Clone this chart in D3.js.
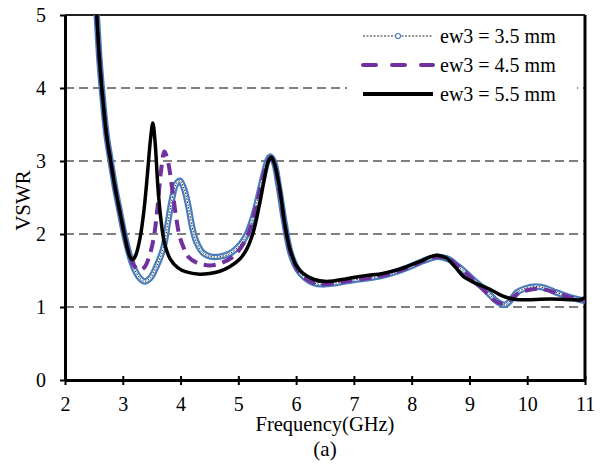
<!DOCTYPE html>
<html><head><meta charset="utf-8">
<script src="https://cdn.jsdelivr.net/npm/d3@7"></script>
<style>body{margin:0;background:#fff}svg text{font-family:"Liberation Serif","Times New Roman",serif !important;fill:#000}</style>
</head><body><svg id="c" width="603" height="467"></svg>
<script>
const xTicks=[2,3,4,5,6,7,8,9,10,11];
const yTicks=[0,1,2,3,4,5];
const seriesNames=["ew3 = 3.5 mm","ew3 = 4.5 mm","ew3 = 5.5 mm"];
const freq35=[2.50,2.55,2.60,2.66,2.72,2.79,2.87,2.95,3.02,3.08,3.14,3.20,3.30,3.38,3.48,3.58,3.70,3.78,3.85,3.92,3.99,4.06,4.13,4.20,4.27,4.39,4.52,4.68,4.85,5.03,5.15,5.26,5.36,5.45,5.52,5.56,5.62,5.70,5.80,5.90,6.02,6.15,6.30,6.45,6.70,7.00,7.30,7.60,7.90,8.20,8.45,8.65,8.80,8.95,9.10,9.24,9.35,9.44,9.53,9.62,9.72,9.82,9.95,10.15,10.35,10.50,10.68,10.85,11.00];
const vswr35=[5.8,5.0,4.35,3.8,3.35,3.0,2.62,2.30,2.02,1.82,1.65,1.52,1.39,1.35,1.40,1.55,1.80,2.15,2.47,2.68,2.73,2.62,2.40,2.10,1.90,1.74,1.69,1.69,1.73,1.85,2.00,2.24,2.55,2.85,3.03,3.06,2.98,2.65,2.15,1.75,1.52,1.40,1.33,1.31,1.33,1.37,1.40,1.45,1.53,1.63,1.69,1.65,1.56,1.46,1.35,1.26,1.17,1.10,1.05,1.03,1.10,1.20,1.25,1.28,1.25,1.20,1.15,1.11,1.08];
const freq45=[2.50,2.55,2.60,2.66,2.72,2.79,2.87,2.95,3.02,3.08,3.14,3.20,3.30,3.38,3.46,3.53,3.60,3.66,3.72,3.78,3.85,3.92,3.98,4.06,4.13,4.30,4.51,4.70,4.91,5.05,5.18,5.30,5.40,5.48,5.56,5.62,5.70,5.80,5.90,6.02,6.15,6.30,6.45,6.70,7.00,7.30,7.60,7.90,8.20,8.45,8.65,8.80,8.95,9.10,9.24,9.35,9.45,9.55,9.65,9.75,9.85,10.00,10.20,10.40,10.60,10.80,11.00];
const vswr45=[5.8,5.0,4.35,3.8,3.35,3.0,2.62,2.30,2.02,1.82,1.66,1.56,1.51,1.55,1.70,1.92,2.35,2.85,3.13,3.00,2.65,2.25,1.98,1.80,1.69,1.60,1.57,1.60,1.69,1.82,2.02,2.35,2.68,2.92,3.05,2.98,2.65,2.15,1.75,1.52,1.40,1.33,1.31,1.33,1.37,1.40,1.45,1.53,1.63,1.69,1.65,1.56,1.46,1.34,1.24,1.15,1.08,1.05,1.07,1.13,1.19,1.23,1.25,1.22,1.17,1.12,1.09];
const freq55=[2.50,2.55,2.60,2.66,2.72,2.79,2.87,2.95,3.02,3.08,3.13,3.17,3.22,3.30,3.37,3.43,3.48,3.52,3.56,3.61,3.66,3.72,3.82,3.95,4.10,4.33,4.50,4.68,4.85,5.03,5.15,5.26,5.36,5.45,5.52,5.57,5.63,5.72,5.80,5.89,6.00,6.12,6.30,6.53,6.90,7.20,7.50,7.80,8.10,8.43,8.60,8.75,8.88,8.95,9.12,9.28,9.41,9.55,9.70,9.85,10.00,10.40,10.80,10.92,11.00];
const vswr55=[5.8,5.0,4.35,3.8,3.35,3.0,2.62,2.30,2.02,1.80,1.68,1.65,1.70,1.95,2.35,2.85,3.30,3.52,3.25,2.62,2.20,1.88,1.66,1.54,1.48,1.45,1.46,1.49,1.55,1.66,1.80,2.03,2.38,2.75,3.00,3.05,2.95,2.60,2.15,1.80,1.57,1.46,1.38,1.35,1.39,1.43,1.46,1.52,1.61,1.71,1.67,1.55,1.43,1.39,1.32,1.27,1.22,1.16,1.12,1.10,1.10,1.11,1.10,1.10,1.13];

const FONT='Liberation Serif';
const svg=d3.select("#c");
const L=65,R=585,T=15,B=380;
const x=d3.scaleLinear().domain([2,11]).range([L,R]);
const y=d3.scaleLinear().domain([0,5]).range([B,T]);

// gridlines
svg.append("g").selectAll("line").data(yTicks.filter(v=>v>0&&v<5)).join("line")
  .attr("x1",L).attr("x2",R).attr("y1",d=>y(d)).attr("y2",d=>y(d))
  .attr("stroke","#808080").attr("stroke-width",2).attr("stroke-dasharray","9,5");
// top border
svg.append("line").attr("x1",L).attr("x2",R).attr("y1",y(5)).attr("y2",y(5)).attr("stroke","#222").attr("stroke-width",2);

// axes
const xAxis=svg.append("g").attr("transform",`translate(0,${B})`)
  .call(d3.axisBottom(x).tickValues(xTicks).tickFormat(d3.format("d")).tickSizeInner(5).tickSizeOuter(0).tickPadding(12));
xAxis.selectAll(".tick line").attr("y1",-4).attr("stroke-width",2);
const yAxis=svg.append("g").attr("transform",`translate(${L},0)`)
  .call(d3.axisLeft(y).tickValues(yTicks).tickFormat(d3.format("d")).tickSizeInner(5).tickSizeOuter(0).tickPadding(14));
yAxis.selectAll(".tick line").attr("stroke-width",2);
[xAxis,yAxis].forEach(a=>{a.attr("font-family",FONT).attr("font-size",20);a.select(".domain").attr("stroke-width",3);a.selectAll("text").attr("font-family",FONT).style("font-size","20px");});
svg.append("line").attr("x1",R).attr("x2",R).attr("y1",T).attr("y2",B).attr("stroke","#000").attr("stroke-width",3);

svg.append("text").attr("x",(L+R)/2).attr("y",431).attr("text-anchor","middle").style("font-size","20.5px").text("Frequency(GHz)");
svg.append("text").attr("x",(L+R)/2).attr("y",456).attr("text-anchor","middle").style("font-size","21px").text("(a)");
svg.append("text").attr("transform",`translate(30,${(T+B)/2+3}) rotate(-90)`).attr("text-anchor","middle").style("font-size","21px").text("VSWR");

// clip
svg.append("clipPath").attr("id","clip").append("rect").attr("x",L).attr("y",T).attr("width",R-L).attr("height",B-T);
const g=svg.append("g").attr("clip-path","url(#clip)");
const line=d3.line().x(d=>x(d[0])).y(d=>y(d[1])).curve(d3.curveCatmullRom.alpha(0.5));
const s35=freq35.map((f,i)=>[f,vswr35[i]]);
const s45=freq45.map((f,i)=>[f,vswr45[i]]);
const s55=freq55.map((f,i)=>[f,vswr55[i]]);
g.append("path").attr("d",line(s35)).attr("fill","none").attr("stroke","#4a7ebb").attr("stroke-width",6.5);
g.append("path").attr("d",line(s35)).attr("fill","none").attr("stroke","#fff").attr("stroke-width",2);
g.append("path").attr("d",line(s35)).attr("fill","none").attr("stroke","#222").attr("stroke-width",1).attr("stroke-dasharray","1.5,1.5");
g.append("path").attr("d",line(s45)).attr("fill","none").attr("stroke","#7030a0").attr("stroke-width",4).attr("stroke-dasharray","12,7");
g.append("path").attr("d",line(s55)).attr("fill","none").attr("stroke","#000").attr("stroke-width",3.5);

// legend
const lg=svg.append("g");
lg.append("rect").attr("x",347).attr("y",20).attr("width",230).attr("height",88).attr("fill","#fff");
const rows=[36,65,94];
seriesNames.forEach((n,i)=>{
  const yy=rows[i];
  if(i===0){
    lg.append("line").attr("x1",363).attr("x2",433).attr("y1",yy).attr("y2",yy).attr("stroke","#222").attr("stroke-width",1).attr("stroke-dasharray","2,1.5");
    lg.append("circle").attr("cx",398).attr("cy",yy).attr("r",2.5).attr("fill","#fff").attr("stroke","#4a7ebb").attr("stroke-width",1.2);
  } else if(i===1){
    lg.append("line").attr("x1",363).attr("x2",433).attr("y1",yy).attr("y2",yy).attr("stroke","#7030a0").attr("stroke-width",4).attr("stroke-dasharray","13,16").attr("stroke-linecap","round");
  } else {
    lg.append("line").attr("x1",363).attr("x2",433).attr("y1",yy).attr("y2",yy).attr("stroke","#000").attr("stroke-width",4);
  }
  lg.append("text").attr("x",440).attr("y",yy).attr("dy","0.35em").style("font-size","20px").text(n);
});
</script></body></html>
